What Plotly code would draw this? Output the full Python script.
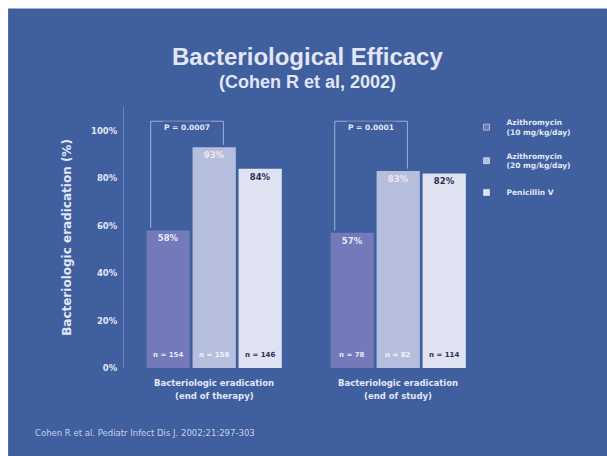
import plotly.graph_objects as go

# Data
categories = ["end_of_therapy", "end_of_study"]
category_line1 = ["Bacteriologic eradication", "Bacteriologic eradication"]
category_line2 = ["(end of therapy)", "(end of study)"]
series_names = ["<b>Azithromycin<br>(10 mg/kg/day)</b>",
                "<b>Azithromycin<br>(20 mg/kg/day)</b>",
                "<b>Penicillin V</b>"]
eradication = [
    [58, 57],   # azithromycin 10 mg/kg/day
    [93, 83],   # azithromycin 20 mg/kg/day
    [84, 82],   # penicillin V
]
patients = [
    [154, 78],
    [158, 82],
    [146, 114],
]
p_values = ["P = 0.0007", "P = 0.0001"]
y_ticks = [0, 20, 40, 60, 80, 100]
y_tick_labels = ["0%", "20%", "40%", "60%", "80%", "100%"]

BG = "#3f5f9f"
TXT = "#e2e6f6"
bar_colors = ["#7379b9", "#b5bfdd", "#dfe2f1"]
pct_colors = ["#e8e8f8", "#f4e4ee", "#2a2f55"]
n_colors = ["#e8e8f8", "#f2f2fa", "#2a2f55"]
TITLE_FONT = "Liberation Sans, Arial, sans-serif"
FONT = "DejaVu Sans, sans-serif"

fig = go.Figure()
for i, name in enumerate(series_names):
    fig.add_trace(go.Bar(
        x=[0, 1], y=eradication[i], name=name, showlegend=False,
        marker=dict(color=bar_colors[i], line=dict(width=0)),
        text=[f"<b>{v}%</b>" for v in eradication[i]],
        textposition="inside", insidetextanchor="end",
        textfont=dict(family=FONT, size=8.5, color=pct_colors[i]),
        offsetgroup=str(i),
    ))
    # small square legend keys
    fig.add_trace(go.Scatter(
        x=[None], y=[None], mode="markers", name=name,
        legendgroup=f"g{i}",
        marker=dict(symbol="square", size=6, color=bar_colors[i],
                    line=dict(color="#ffffff", width=0.5)),
    ))

# n labels at the foot of each bar
bar_w = 0.75 / 3
for i in range(3):
    for j in range(2):
        fig.add_annotation(
            x=j + (i - 1) * bar_w, y=5.5, xref="x", yref="y",
            text=f"<b>n = {patients[i][j]}</b>", showarrow=False,
            font=dict(family=FONT, size=7, color=n_colors[i]))

# significance brackets above the first two bars of each group
for j in range(2):
    xl = j - bar_w * 1.5 + 0.03
    xr = j + 0.05
    top = 104
    line = dict(color="#9fb0d8", width=1)
    fig.add_shape(type="line", xref="x", yref="y", x0=xl, x1=xl,
                  y0=eradication[0][j] + 1, y1=top, line=line)
    fig.add_shape(type="line", xref="x", yref="y", x0=xr, x1=xr,
                  y0=eradication[1][j] + 1, y1=top, line=line)
    fig.add_shape(type="line", xref="x", yref="y", x0=xl, x1=xr,
                  y0=top, y1=top, line=line)
    fig.add_annotation(x=xl + 0.06, y=101.5, xref="x", yref="y", xanchor="left",
                       text=f"<b>{p_values[j]}</b>", showarrow=False, bgcolor=BG,
                       font=dict(family=FONT, size=7.5, color=TXT))

# category labels under the groups (two lines each)
for j in range(2):
    fig.add_annotation(x=j, y=-0.0575, xref="x", yref="paper", yanchor="middle",
                       text=f"<b>{category_line1[j]}</b>", showarrow=False,
                       font=dict(family=FONT, size=8.5, color=TXT))
    fig.add_annotation(x=j, y=-0.107, xref="x", yref="paper", yanchor="middle",
                       text=f"<b>{category_line2[j]}</b>", showarrow=False,
                       font=dict(family=FONT, size=8.5, color=TXT))

# white frame at top and left of the slide
fig.add_shape(type="rect", xref="paper", yref="paper", x0=-0.6, x1=-0.335, y0=-0.6, y1=1.6,
              fillcolor="white", line=dict(width=0), layer="below")
fig.add_shape(type="rect", xref="paper", yref="paper", x0=-0.6, x1=1.6, y0=1.377, y1=1.6,
              fillcolor="white", line=dict(width=0), layer="below")

fig.add_annotation(x=0.53, y=1.193, xref="paper", yref="paper", xanchor="center",
                   yanchor="middle",
                   text="<b>Bacteriological Efficacy</b>", showarrow=False,
                   font=dict(family=TITLE_FONT, size=24, color=TXT))
fig.add_annotation(x=0.53, y=1.097, xref="paper", yref="paper", xanchor="center",
                   yanchor="middle",
                   text="<b>(Cohen R et al, 2002)</b>", showarrow=False,
                   font=dict(family=TITLE_FONT, size=18, color=TXT))
fig.add_annotation(x=-0.262, y=-0.249, xref="paper", yref="paper", xanchor="left",
                   yanchor="middle",
                   text="Cohen R et al. Pediatr Infect Dis J. 2002;21:297-303",
                   showarrow=False, font=dict(family=FONT, size=8.5, color="#c8d0ec"))

fig.update_layout(
    width=607, height=456,
    margin=dict(l=124, r=137, t=107, b=88),
    paper_bgcolor=BG, plot_bgcolor=BG,
    barmode="group", bargap=0.25, bargroupgap=0.06,
    showlegend=True,
    legend=dict(x=0.99, y=0.985, xanchor="left", yanchor="top",
                font=dict(family=FONT, size=7.5, color=TXT),
                bgcolor="rgba(0,0,0,0)", tracegroupgap=11, itemwidth=30),
    xaxis=dict(range=[-0.49, 1.39], showticklabels=False, showgrid=False,
               zeroline=False, showline=False),
    yaxis=dict(range=[0, 110], tickvals=y_ticks,
               ticktext=[f"<b>{t}</b>" for t in y_tick_labels],
               tickfont=dict(family=FONT, size=8.5, color=TXT),
               showgrid=False, zeroline=False, showline=True,
               linecolor="#6c84bd", linewidth=1, ticks="", ticklabelstandoff=4,
               title=dict(text="<b>Bacteriologic eradication (%)</b>",
                          font=dict(family=FONT, size=12, color=TXT), standoff=16)),
    font=dict(family=FONT, color=TXT),
)

fig.write_html("out.html")
